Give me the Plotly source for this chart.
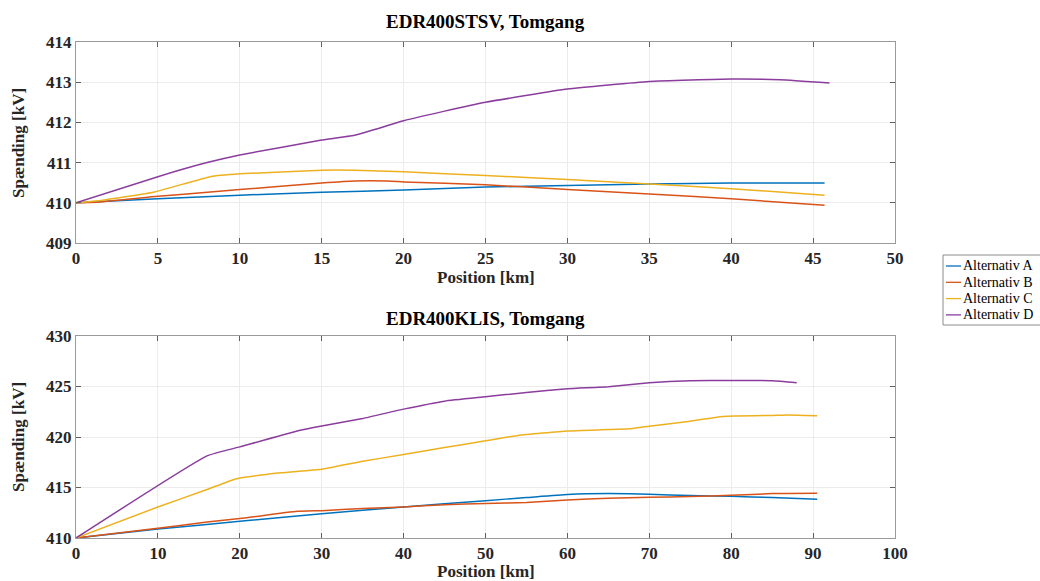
import plotly.graph_objects as go

# ---- data: top panel (EDR400STSV) ----
names = ["Alternativ A", "Alternativ B", "Alternativ C", "Alternativ D"]
colors = ["#0072BD", "#D95319", "#EDB120", "#8A3D9C"]

top_x_A = [0, 5, 10, 15, 20, 25, 30, 35, 40, 45.7]
top_y_A = [410.0, 410.10, 410.19, 410.26, 410.32, 410.39, 410.43, 410.47, 410.49, 410.49]
top_x_B = [0, 1.5, 5, 8.2, 10, 15, 17, 19, 20, 25, 30, 35, 40, 45.7]
top_y_B = [410.0, 410.02, 410.16, 410.27, 410.33, 410.49, 410.54, 410.54, 410.52, 410.45, 410.33, 410.22, 410.10, 409.94]
top_x_C = [0, 1.5, 4.8, 8.2, 10, 15, 17, 20, 25, 30, 35, 40, 45.7]
top_y_C = [410.0, 410.06, 410.27, 410.65, 410.72, 410.81, 410.81, 410.77, 410.68, 410.58, 410.47, 410.35, 410.19]
top_x_D = [0, 5, 8, 10, 15, 17, 20, 22.5, 25, 30, 35, 40, 43, 46]
top_y_D = [410.0, 410.65, 411.0, 411.19, 411.56, 411.68, 412.04, 412.28, 412.5, 412.83, 413.02, 413.08, 413.06, 412.98]

# ---- data: bottom panel (EDR400KLIS) ----
bot_x_A = [0, 10, 20, 30, 40, 50, 55, 60, 65, 70, 75, 80, 85, 90.5]
bot_y_A = [410.0, 410.89, 411.65, 412.41, 413.07, 413.7, 414.0, 414.3, 414.4, 414.33, 414.2, 414.13, 414.0, 413.83]
bot_x_B = [0, 10, 16, 20, 27, 30, 35, 40, 45, 50, 55, 60, 65, 70, 75, 80, 85, 90.5]
bot_y_B = [410.0, 410.96, 411.59, 411.92, 412.64, 412.71, 412.91, 413.07, 413.3, 413.42, 413.52, 413.77, 413.93, 414.03, 414.1, 414.23, 414.4, 414.43]
bot_x_C = [0, 10, 16, 19.5, 25, 30, 35, 40, 45, 50, 54, 60, 65, 68, 70, 75, 79, 85, 87, 90.5]
bot_y_C = [410.0, 413.07, 414.8, 415.85, 416.45, 416.81, 417.6, 418.26, 418.95, 419.62, 420.15, 420.6, 420.74, 420.85, 421.07, 421.57, 422.03, 422.13, 422.17, 422.1]
bot_x_D = [0, 16, 20, 27, 30, 35, 40, 45, 50, 55, 60, 65, 70, 75, 80, 85, 88]
bot_y_D = [410.0, 418.13, 419.02, 420.6, 421.1, 421.83, 422.76, 423.55, 423.98, 424.41, 424.78, 424.98, 425.37, 425.57, 425.6, 425.57, 425.37]

top_x_ticks = [0, 5, 10, 15, 20, 25, 30, 35, 40, 45, 50]
top_y_ticks = [409, 410, 411, 412, 413, 414]
bot_x_ticks = [0, 10, 20, 30, 40, 50, 60, 70, 80, 90, 100]
bot_y_ticks = [410, 415, 420, 425, 430]

titles = ["EDR400STSV, Tomgang", "EDR400KLIS, Tomgang"]
xlabel = "Position [km]"
ylabel = "Spænding [kV]"

FONT = "'Liberation Serif', 'Times New Roman', Times, serif"
W, H = 1040, 581

fig = go.Figure()
top = [(top_x_A, top_y_A), (top_x_B, top_y_B), (top_x_C, top_y_C), (top_x_D, top_y_D)]
bot = [(bot_x_A, bot_y_A), (bot_x_B, bot_y_B), (bot_x_C, bot_y_C), (bot_x_D, bot_y_D)]
for i, (x, y) in enumerate(top):
    fig.add_trace(go.Scatter(x=x, y=y, mode="lines", name=names[i], legendgroup=names[i],
                             showlegend=False,
                             line=dict(color=colors[i], width=1.5, shape="spline", smoothing=0.4),
                             xaxis="x", yaxis="y"))
for i, (x, y) in enumerate(bot):
    fig.add_trace(go.Scatter(x=x, y=y, mode="lines", name=names[i], legendgroup=names[i],
                             showlegend=False,
                             line=dict(color=colors[i], width=1.5, shape="spline", smoothing=0.4),
                             xaxis="x2", yaxis="y2"))

xd = [76 / W, 895 / W]
ytop = [1 - 243 / H, 1 - 42 / H]
ybot = [1 - 538 / H, 1 - 336 / H]

tickfont = dict(family=FONT, size=17, color="#262626", weight="bold")
axis_common = dict(showline=True, linecolor="#9a9a9a", linewidth=1, mirror="ticks",
                   ticks="inside", ticklen=5, tickcolor="#606060",
                   showgrid=True, gridcolor="#ececec", gridwidth=1, zeroline=False,
                   tickfont=tickfont, automargin=False)

fig.update_layout(
    width=W, height=H,
    margin=dict(l=0, r=0, t=0, b=0, autoexpand=False),
    paper_bgcolor="white", plot_bgcolor="white",
    showlegend=False,
    xaxis=dict(domain=xd, anchor="y", range=[0, 50], tickvals=top_x_ticks, **axis_common),
    yaxis=dict(domain=ytop, anchor="x", range=[409, 414], tickvals=top_y_ticks, **axis_common),
    xaxis2=dict(domain=xd, anchor="y2", range=[0, 100], tickvals=bot_x_ticks, **axis_common),
    yaxis2=dict(domain=ybot, anchor="x2", range=[410, 430], tickvals=bot_y_ticks, **axis_common),
)

ann = []
shapes = []
cx = (xd[0] + xd[1]) / 2
for title, ypx in [(titles[0], 22), (titles[1], 318)]:
    ann.append(dict(text=title, x=cx, y=1 - ypx / H, xref="paper", yref="paper",
                    showarrow=False, xanchor="center", yanchor="middle",
                    font=dict(family=FONT, size=19, color="#000000", weight="bold")))
for ypx in [277, 571]:
    ann.append(dict(text=xlabel, x=cx, y=1 - ypx / H, xref="paper", yref="paper",
                    showarrow=False, xanchor="center", yanchor="middle",
                    font=dict(family=FONT, size=17, color="#262626", weight="bold")))
for ypx in [143, 437]:
    ann.append(dict(text=ylabel, x=18 / W, y=1 - ypx / H, xref="paper", yref="paper",
                    showarrow=False, xanchor="center", yanchor="middle", textangle=-90,
                    font=dict(family=FONT, size=17, color="#262626", weight="bold")))

# legend box (drawn in paper coordinates, clipped at right edge like the original)
lx0, ly0, lx1, ly1 = 943, 255, 1045, 325
shapes.append(dict(type="rect", xref="paper", yref="paper",
                   x0=lx0 / W, x1=lx1 / W, y0=1 - ly1 / H, y1=1 - ly0 / H,
                   line=dict(color="#8c8c8c", width=1), fillcolor="white", layer="above"))
for i, name in enumerate(names):
    yc = 266 + i * 16.3
    shapes.append(dict(type="line", xref="paper", yref="paper",
                       x0=946 / W, x1=961 / W, y0=1 - yc / H, y1=1 - yc / H,
                       line=dict(color=colors[i], width=1.3), layer="above"))
    ann.append(dict(text=name, x=961 / W, y=1 - yc / H, xref="paper", yref="paper",
                    showarrow=False, xanchor="left", yanchor="middle",
                    font=dict(family=FONT, size=14, color="#000000")))

fig.update_layout(annotations=ann, shapes=shapes)

fig.write_html("out.html", config={"displayModeBar": False},
               post_script="document.body.style.margin='0';document.body.style.padding='0';document.body.style.overflow='hidden';")
